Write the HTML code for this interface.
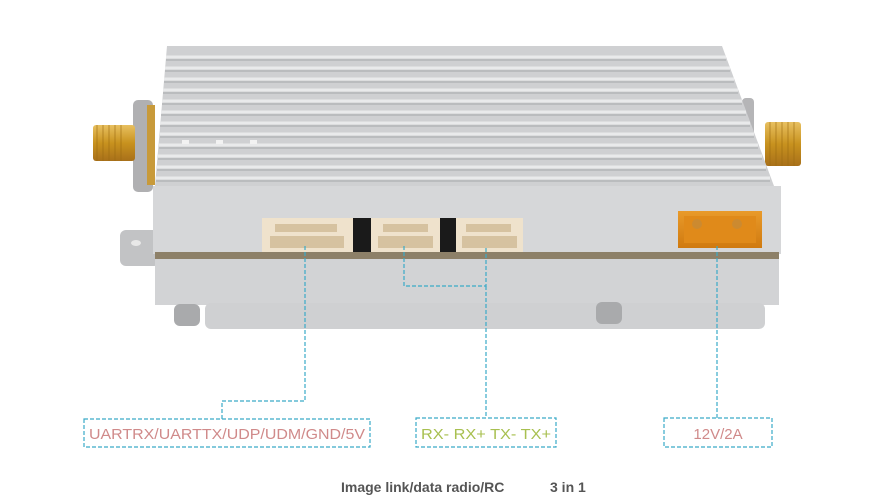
<!DOCTYPE html>
<html><head><meta charset="utf-8"><style>
html,body{margin:0;padding:0;background:#fff;width:884px;height:500px;overflow:hidden}
svg{display:block}
</style></head><body>
<svg width="884" height="500" viewBox="0 0 884 500" xmlns="http://www.w3.org/2000/svg">
<defs>
<linearGradient id="gold" x1="0" y1="0" x2="0" y2="1"><stop offset="0" stop-color="#e8c060"/><stop offset="0.5" stop-color="#c8921e"/><stop offset="1" stop-color="#a8701a"/></linearGradient>
<linearGradient id="xt" x1="0" y1="0" x2="0" y2="1"><stop offset="0" stop-color="#e99a2a"/><stop offset="1" stop-color="#d07a10"/></linearGradient>
</defs>
<!-- mount tab -->
<rect x="120" y="230" width="40" height="36" rx="6" fill="#c2c3c5"/>
<ellipse cx="136" cy="243" rx="5" ry="3" fill="#e8e8e8"/>
<!-- left nuts and SMA -->
<rect x="133" y="100" width="20" height="92" rx="5" fill="#b0b0b2"/>
<rect x="147" y="105" width="8" height="80" fill="#c89a3a"/>
<rect x="93" y="125" width="42" height="36" rx="3" fill="url(#gold)"/>
<g stroke="#9a6a10" stroke-width="1" opacity="0.6"><line x1="97" y1="125" x2="97" y2="161"/><line x1="103" y1="125" x2="103" y2="161"/><line x1="109" y1="125" x2="109" y2="161"/><line x1="115" y1="125" x2="115" y2="161"/><line x1="121" y1="125" x2="121" y2="161"/></g>
<!-- right nuts and SMA -->
<rect x="742" y="98" width="12" height="80" rx="4" fill="#b5b5b7"/>
<rect x="765" y="122" width="36" height="44" rx="3" fill="url(#gold)"/>
<g stroke="#9a6a10" stroke-width="1" opacity="0.6"><line x1="770" y1="122" x2="770" y2="166"/><line x1="776" y1="122" x2="776" y2="166"/><line x1="782" y1="122" x2="782" y2="166"/><line x1="788" y1="122" x2="788" y2="166"/><line x1="794" y1="122" x2="794" y2="166"/></g>
<!-- heatsink top -->
<polygon points="167,46 722,46 774,186 155,186" fill="#cfd0d2"/>
<g stroke="#e9eaeb" stroke-width="3">
<line x1="166" y1="57" x2="726" y2="57"/><line x1="165" y1="68" x2="730" y2="68"/><line x1="164" y1="79" x2="734" y2="79"/><line x1="163" y1="90" x2="738" y2="90"/><line x1="162" y1="101" x2="742" y2="101"/><line x1="161" y1="112" x2="746" y2="112"/><line x1="160" y1="123" x2="750" y2="123"/><line x1="160" y1="134" x2="754" y2="134"/><line x1="159" y1="145" x2="758" y2="145"/><line x1="158" y1="156" x2="762" y2="156"/><line x1="157" y1="167" x2="766" y2="167"/><line x1="156" y1="178" x2="770" y2="178"/>
</g>
<g stroke="#b4b5b7" stroke-width="1.5">
<line x1="166" y1="60" x2="726" y2="60"/><line x1="165" y1="71" x2="730" y2="71"/><line x1="164" y1="82" x2="734" y2="82"/><line x1="163" y1="93" x2="738" y2="93"/><line x1="162" y1="104" x2="742" y2="104"/><line x1="161" y1="115" x2="746" y2="115"/><line x1="160" y1="126" x2="750" y2="126"/><line x1="160" y1="137" x2="754" y2="137"/><line x1="159" y1="148" x2="758" y2="148"/><line x1="158" y1="159" x2="762" y2="159"/><line x1="157" y1="170" x2="766" y2="170"/><line x1="156" y1="181" x2="770" y2="181"/>
</g>
<g fill="#f2f2f2"><rect x="182" y="140" width="7" height="4"/><rect x="216" y="140" width="7" height="4"/><rect x="250" y="140" width="7" height="4"/></g>
<!-- front face -->
<rect x="153" y="186" width="628" height="68" fill="#d6d7d9"/>
<!-- seam -->
<rect x="155" y="252" width="624" height="7" fill="#8d8068"/>
<!-- lower block -->
<rect x="155" y="259" width="624" height="46" fill="#d2d3d5"/>
<rect x="205" y="303" width="560" height="26" rx="6" fill="#cfd0d2"/>
<!-- screws -->
<rect x="174" y="304" width="26" height="22" rx="6" fill="#a9aaac"/>
<rect x="596" y="302" width="26" height="22" rx="6" fill="#a9aaac"/>
<!-- connectors -->
<rect x="353" y="218" width="18" height="34" fill="#1a1a1a"/>
<rect x="440" y="218" width="16" height="34" fill="#1a1a1a"/>
<rect x="262" y="218" width="91" height="34" fill="#efe2cc"/>
<rect x="371" y="218" width="69" height="34" fill="#efe2cc"/>
<rect x="456" y="218" width="67" height="34" fill="#efe2cc"/>
<g fill="#d6c2a0"><rect x="275" y="224" width="62" height="8"/><rect x="383" y="224" width="45" height="8"/><rect x="466" y="224" width="45" height="8"/>
<rect x="270" y="236" width="74" height="12"/><rect x="378" y="236" width="55" height="12"/><rect x="462" y="236" width="55" height="12"/></g>
<!-- XT connector -->
<rect x="678" y="211" width="84" height="37" fill="url(#xt)"/>
<rect x="684" y="216" width="72" height="27" fill="#e08a1a"/>
<circle cx="697" cy="224" r="5" fill="#cc8a30"/><circle cx="737" cy="224" r="5" fill="#cc8a30"/>
<!-- dashed connectors -->
<g fill="none" stroke="#3aaac8" stroke-width="1.2" stroke-dasharray="4,2">
<polyline points="305,246 305,401 222,401 222,419"/>
<polyline points="404,246 404,286 486,286 486,246"/>
<line x1="486" y1="286" x2="486" y2="418"/>
<line x1="717" y1="246" x2="717" y2="418"/>
<rect x="84" y="419" width="286" height="28"/>
<rect x="416" y="418" width="140" height="29"/>
<rect x="664" y="418" width="108" height="29"/>
</g>
<g font-family="Liberation Sans, sans-serif" font-size="15">
<text x="227" y="439" text-anchor="middle" fill="#d08a8a" textLength="276" lengthAdjust="spacingAndGlyphs">UARTRX/UARTTX/UDP/UDM/GND/5V</text>
<text x="486" y="439" text-anchor="middle" fill="#a8c050" textLength="130" lengthAdjust="spacingAndGlyphs">RX- RX+ TX- TX+</text>
<text x="718" y="439" text-anchor="middle" fill="#d08a8a">12V/2A</text>
</g>
<text x="341" y="492" font-family="Liberation Sans, sans-serif" font-size="14" font-weight="bold" fill="#555">Image link/data radio/RC</text>
<text x="550" y="492" font-family="Liberation Sans, sans-serif" font-size="14" font-weight="bold" fill="#555">3 in 1</text>
</svg>
</body></html>
